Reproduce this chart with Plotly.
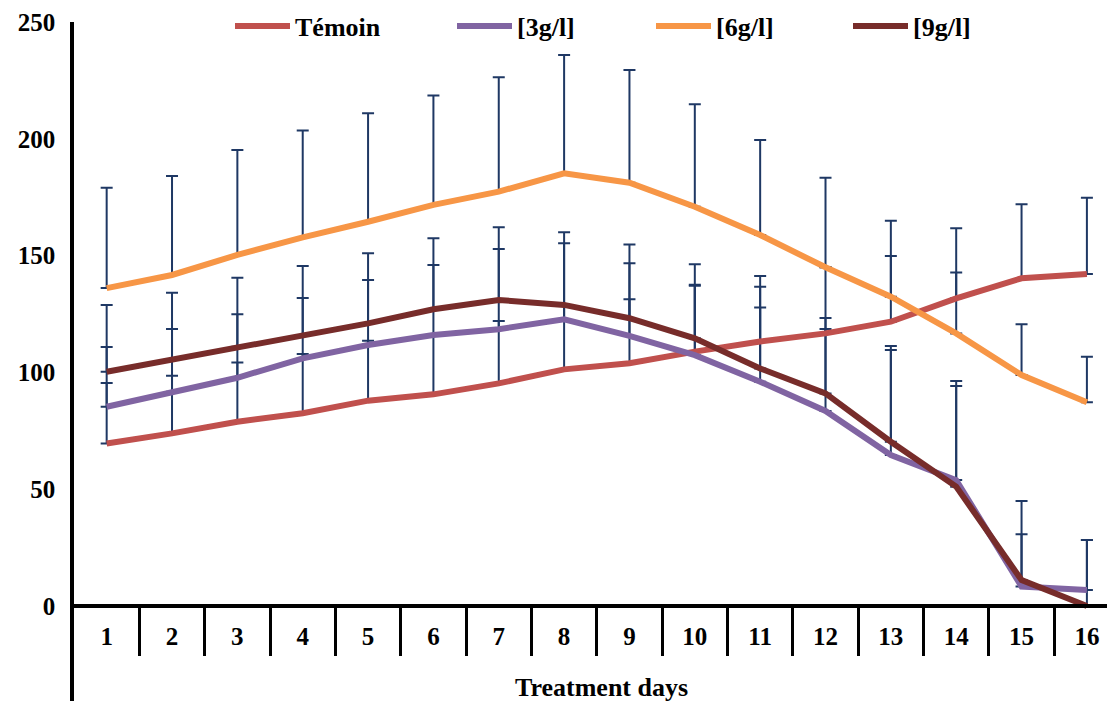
import plotly.graph_objects as go

days = list(range(1, 17))
day_labels = [str(d) for d in days]

temoin = [69.6, 73.9, 78.9, 82.5, 87.9, 90.6, 95.3, 101.3, 103.9, 108.9, 113.2, 116.7, 121.7, 131.7, 140.3, 142.1]
g3 = [85.3, 91.7, 97.7, 106.0, 111.7, 116.0, 118.5, 122.7, 115.6, 107.4, 96.0, 83.5, 64.6, 53.9, 8.3, 6.8]
g6 = [136.1, 141.7, 150.3, 157.8, 164.5, 171.7, 177.4, 185.2, 181.2, 170.9, 158.8, 145.0, 132.4, 116.7, 98.9, 87.2]
g9 = [100.3, 105.6, 111.0, 116.0, 121.0, 127.0, 131.0, 128.9, 123.2, 114.6, 101.7, 91.0, 70.3, 51.1, 11.1, 0.0]

temoin_err = [25.9, 24.7, 25.3, 25.4, 25.7, 25.4, 26.7, 27.6, 27.4, 28.2, 28.1, 28.3, 28.1, 30.0, 31.7, 32.7]
g3_err = [25.6, 26.9, 27.2, 25.8, 27.9, 30.0, 34.3, 32.6, 31.1, 30.1, 31.8, 35.1, 45.0, 40.3, 22.4, 21.5]
g6_err = [42.9, 42.4, 44.9, 45.8, 46.4, 46.8, 48.9, 50.7, 48.3, 43.9, 40.7, 38.3, 32.5, 26.1, 21.7, 19.5]
g9_err = [28.6, 28.5, 29.5, 29.5, 30.0, 30.4, 31.1, 31.1, 31.6, 31.7, 35.0, 32.3, 41.0, 45.2, 33.8, 28.3]

names = ["Témoin", "[3g/l]", "[6g/l]", "[9g/l]"]
series = [temoin, g3, g6, g9]
errors = [temoin_err, g3_err, g6_err, g9_err]
colors = ["#C0504D", "#8064A2", "#F79646", "#772C2A"]

FONT = "Liberation Serif, Times New Roman, serif"
ERR_COLOR = "#1F3864"

fig = go.Figure()

# error bars (drawn underneath the lines)
for vals, err in zip(series, errors):
    fig.add_trace(go.Scatter(
        x=days, y=vals, mode="markers",
        marker=dict(size=1, color="rgba(0,0,0,0)"),
        error_y=dict(type="data", array=err, arrayminus=[0] * len(err), symmetric=False,
                     color=ERR_COLOR, thickness=2, width=6),
        showlegend=False, hoverinfo="skip",
    ))

# lines
legend_ids = ["legend", "legend2", "legend3", "legend4"]
for name, vals, col, lg in zip(names, series, colors, legend_ids):
    fig.add_trace(go.Scatter(
        x=days, y=vals, mode="lines", name=name,
        line=dict(color=col, width=6),
        legend=lg,
    ))

# page has an 8px body margin; figure is laid out to compensate
PAGE_OFF = 8
PLOT_L, PLOT_W, PLOT_T, PLOT_H = 74, 1041, 22, 679
text_starts = [295, 517, 716, 913]
ITEMW = 55
legend_font = dict(family=FONT, size=26, color="black", weight="bold")
leg_layout = {}
for lg, ts in zip(legend_ids, text_starts):
    leg_layout[lg] = dict(
        x=(ts - (ITEMW + 10) - PLOT_L) / PLOT_W, xanchor="left",
        y=(701 - 26) / PLOT_H, yanchor="middle",
        orientation="h", bgcolor="rgba(0,0,0,0)", borderwidth=0,
        font=legend_font, itemwidth=ITEMW,
    )

fig.update_layout(
    width=1115 - PAGE_OFF, height=701 - PAGE_OFF,
    margin=dict(l=PLOT_L - PAGE_OFF, r=0, t=PLOT_T - PAGE_OFF, b=0, autoexpand=False),
    paper_bgcolor="white", plot_bgcolor="white",
    font=dict(family=FONT, size=25, color="black", weight="bold"),
    xaxis=dict(
        range=[0.5, 16.43], tickmode="array", tickvals=days, ticktext=day_labels,
        showline=True, linecolor="black", linewidth=3.5,
        ticks="", showgrid=False, zeroline=False, automargin=False,
        anchor="free", position=40.67 / 290.67,
        ticklabelstandoff=7,
        minor=dict(tickvals=[d + 0.5 for d in days[:-1]], ticks="outside",
                   ticklen=48, tickwidth=3, tickcolor="black", showgrid=False),
        tickfont=dict(family=FONT, size=25, color="black", weight="bold"),
    ),
    yaxis=dict(
        range=[-40.67, 250], tickmode="array", tickvals=[0, 50, 100, 150, 200, 250],
        showline=True, linecolor="black", linewidth=3.5,
        ticks="", showgrid=False, zeroline=False, automargin=False,
        ticklabelstandoff=10,
        tickfont=dict(family=FONT, size=25, color="black", weight="bold"),
    ),
    annotations=[dict(
        text="Treatment days", xref="paper", yref="paper",
        x=(601 - PLOT_L) / PLOT_W, y=(701 - 687) / PLOT_H,
        xanchor="center", yanchor="middle", showarrow=False,
        font=dict(family=FONT, size=26, color="black", weight="bold"),
    )],
    **leg_layout,
)

fig.write_html("out.html")
